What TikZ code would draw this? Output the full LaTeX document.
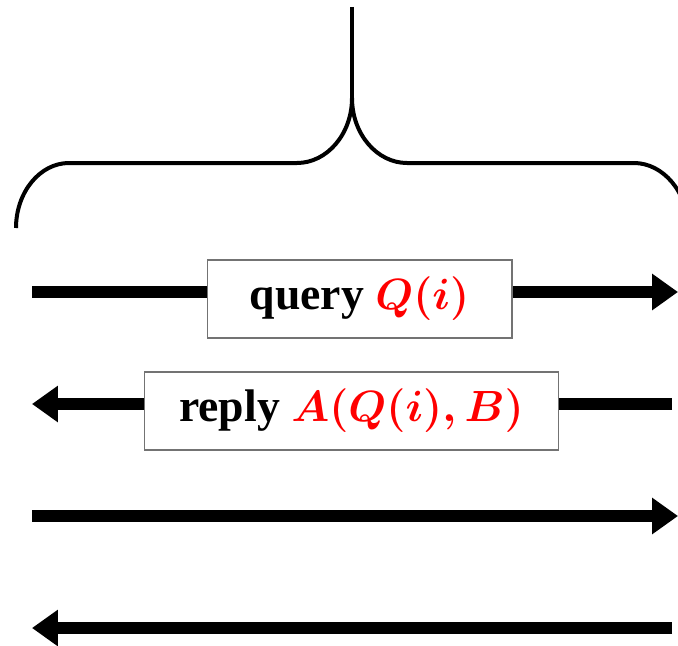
\documentclass[tikz,border=0pt]{standalone}
\usepackage{fontspec}
\setmainfont{Liberation Serif}
\usetikzlibrary{arrows.meta}

\begin{document}
\begin{tikzpicture}[x=0.02cm, y=-0.02cm,
    brace/.style={line width=0.08cm},
    msg/.style={line width=0.24cm, -{Triangle[length=0.52cm, width=0.7cm]}},
    msgbox/.style={draw=black!55, line width=0.6pt, fill=white, inner sep=0pt,
        minimum height=1.56cm, font=\fontsize{26}{30}\selectfont\bfseries}]
    \useasboundingbox (0, 0) rectangle (678, 645);

    % brace
    \coordinate (stem) at (352, 7);
    \coordinate (tip) at (352, 98);
    \draw[brace] (stem) -- (tip);
    \draw[brace] (16, 228) .. controls (16, 192) and (40, 163) .. (69, 163) -- (297, 163)
        .. controls (327, 163) and (352, 134) .. (tip)
        .. controls (352, 134) and (377, 163) .. (407, 163) -- (634, 163)
        .. controls (663, 163) and (688, 192) .. (688, 228);

    % messages
    \coordinate (q0) at (32, 292);
    \coordinate (q1) at (678, 292);
    \coordinate (r0) at (32, 404);
    \coordinate (r1) at (672, 404);
    \coordinate (s0) at (32, 516);
    \coordinate (s1) at (678, 516);
    \coordinate (t0) at (32, 628);
    \coordinate (t1) at (672, 628);

    \draw[msg] (q0) -- (q1);
    \draw[msg] (r1) -- (r0);
    \draw[msg] (s0) -- (s1);
    \draw[msg] (t1) -- (t0);

    \node[msgbox, minimum width=6.1cm] (query) at (359.5, 299)
        {query \textcolor{red}{\boldmath$Q(i)$}};
    \node[msgbox, minimum width=8.3cm] (reply) at (351.5, 411)
        {reply \textcolor{red}{\boldmath$A(Q(i),B)$}};
\end{tikzpicture}
\end{document}
